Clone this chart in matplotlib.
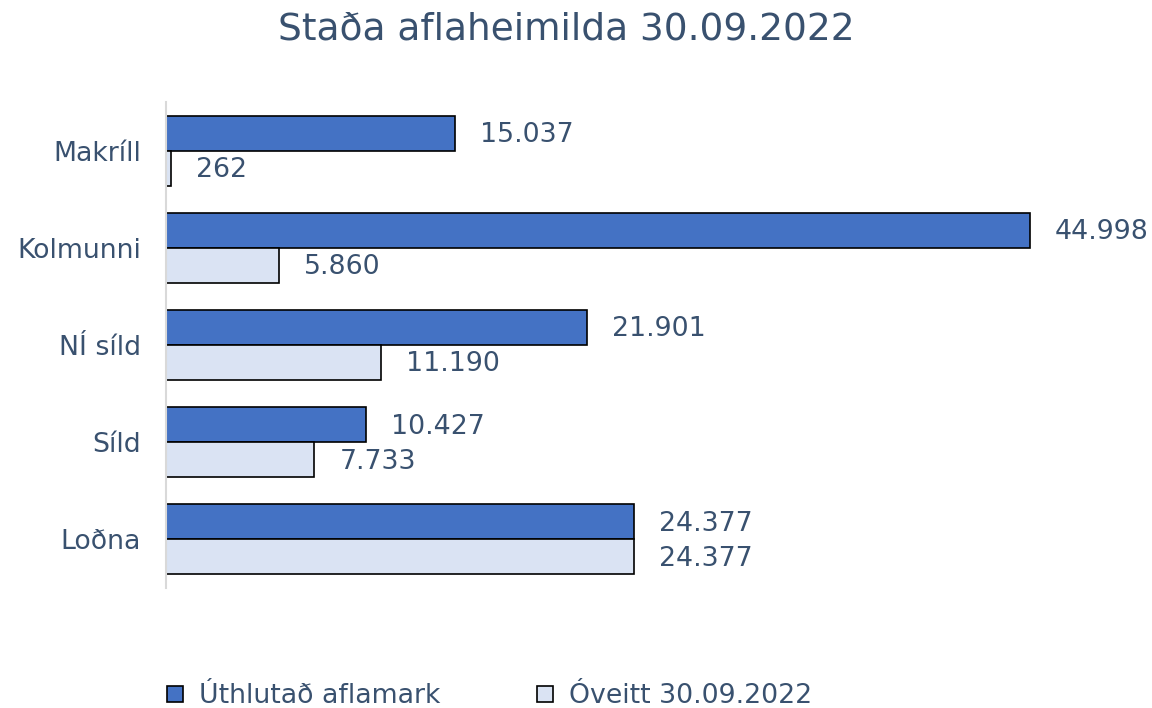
import numpy as np
import matplotlib.pyplot as plt
from matplotlib.lines import Line2D

categories = ["Makríll", "Kolmunni", "NÍ síld", "Síld", "Loðna"]
uthlutad = [15037, 44998, 21901, 10427, 24377]
oveitt = [262, 5860, 11190, 7733, 24377]
series_names = ["Úthlutað aflamark", "Óveitt 30.09.2022"]

txt = "#39516F"
blue = "#4472C4"
light = "#DAE3F3"


def fmt(v):
    return f"{v:,}".replace(",", ".")


fig = plt.figure(figsize=(11.52, 7.08), dpi=100)
ax = fig.add_axes([166 / 1152, 1 - 588 / 708, (1110 - 166) / 1152, 486 / 708])

y = np.arange(len(categories))
h = 0.36
ax.barh(y - h / 2, uthlutad, height=h, color=blue, edgecolor="black", linewidth=1.2)
ax.barh(y + h / 2, oveitt, height=h, color=light, edgecolor="black", linewidth=1.2)

xmax = 44998 * (1110 - 166) / (1030 - 166)
ax.set_xlim(0, xmax)
ax.set_ylim(len(categories) - 0.5, -0.5)

# labels sit ~25px right of the bar end
off = 25 / (1110 - 166) * xmax
for i in range(len(categories)):
    ax.text(uthlutad[i] + off, y[i] - h / 2 + 0.02, fmt(uthlutad[i]), va="center", ha="left",
            fontsize=19.3, color=txt)
    ax.text(oveitt[i] + off, y[i] + h / 2 + 0.02, fmt(oveitt[i]), va="center", ha="left",
            fontsize=19.3, color=txt)

ax.set_yticks(y)
ax.set_yticklabels(categories, fontsize=19.3, color=txt)
ax.tick_params(axis="y", length=0, pad=18)
ax.set_xticks([])
for s in ["top", "right", "bottom"]:
    ax.spines[s].set_visible(False)
ax.spines["left"].set_color("#D9D9D9")
ax.spines["left"].set_linewidth(1.5)

fig.text(566 / 1152, 1 - 30 / 708, "Staða aflaheimilda 30.09.2022", ha="center", va="center",
         fontsize=27, color=txt)

handles = [
    Line2D([], [], marker="s", linestyle="none", markersize=12, markerfacecolor=blue,
           markeredgecolor="black", markeredgewidth=1.2),
    Line2D([], [], marker="s", linestyle="none", markersize=12, markerfacecolor=light,
           markeredgecolor="black", markeredgewidth=1.2),
]
leg = fig.legend(handles, series_names, loc="center", bbox_to_anchor=(488 / 1152, 1 - 696 / 708),
                 ncol=2, frameon=False, fontsize=19.3, handletextpad=0.5, columnspacing=3.5,
                 handlelength=0.8)
for t in leg.get_texts():
    t.set_color(txt)

fig.savefig("out.png", dpi=100)
